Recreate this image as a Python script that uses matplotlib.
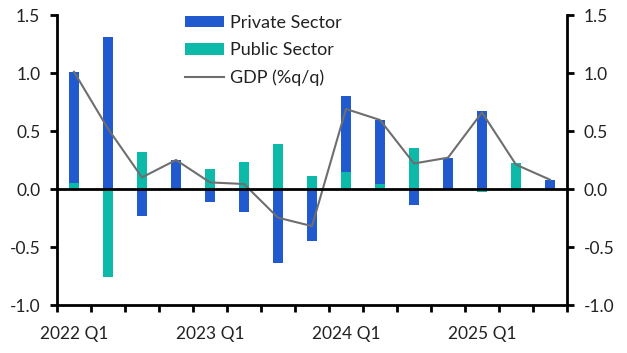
import numpy as np
import matplotlib
matplotlib.use("Agg")
import matplotlib.pyplot as plt
from matplotlib.ticker import FixedLocator

plt.rcParams["font.family"] = ["Lato", "DejaVu Sans"]

# Datos (contribuciones al PIB, pp)
trimestres = ["2022 Q1", "2022 Q2", "2022 Q3", "2022 Q4",
              "2023 Q1", "2023 Q2", "2023 Q3", "2023 Q4",
              "2024 Q1", "2024 Q2", "2024 Q3", "2024 Q4",
              "2025 Q1", "2025 Q2", "2025 Q3"]
privado = [0.96, 1.31, -0.23, 0.25, -0.115, -0.20, -0.635, -0.45,
           0.65, 0.545, -0.135, 0.27, 0.675, 0.0, 0.08]
publico = [0.05, -0.76, 0.32, 0.0, 0.17, 0.235, 0.39, 0.115,
           0.15, 0.046, 0.35, 0.0, -0.023, 0.22, 0.0]
pib = [1.01, 0.52, 0.10, 0.25, 0.057, 0.043, -0.247, -0.32,
       0.69, 0.595, 0.22, 0.27, 0.66, 0.21, 0.08]
etiquetas = ["2022 Q1", "2023 Q1", "2024 Q1", "2025 Q1"]

AZUL = "#215ACE"
TURQ = "#0DBAAA"
GRIS = "#6E6E6E"
TEXTO = "#222222"

x = np.arange(len(trimestres))
privado = np.array(privado)
publico = np.array(publico)
# apilar por signo (como Excel)
base_priv = np.where(np.sign(privado) == np.sign(publico), publico, 0.0)

fig = plt.figure(figsize=(6.27, 3.53), dpi=100)
ax = fig.add_axes([57 / 627, 48 / 353, 510 / 627, 290 / 353])

ax.bar(x, publico, width=0.32, color=TURQ, label="Public Sector", zorder=2)
ax.bar(x, privado, width=0.32, bottom=base_priv, color=AZUL,
       label="Private Sector", zorder=2)
ax.plot(x, pib, color=GRIS, lw=1.5, label="GDP (%q/q)", zorder=3)
ax.axhline(0, color="black", lw=2, zorder=4)

ax.set_xlim(-0.5, len(trimestres) - 0.5)
ax.set_ylim(-1.0, 1.5)
yt = np.arange(-1.0, 1.51, 0.5)
ax.set_yticks(yt)
ax.set_yticklabels([f"{v:.1f}" for v in yt])
ax.tick_params(axis="y", which="both", direction="out", length=5, width=2,
               labelsize=12.5, labelright=True, right=True,
               labelcolor=TEXTO, pad=7)

ax.xaxis.set_major_locator(FixedLocator(np.arange(-0.5, len(trimestres), 1.0)))
ax.xaxis.set_major_formatter(plt.NullFormatter())
ax.xaxis.set_minor_locator(FixedLocator([trimestres.index(e) for e in etiquetas]))
ax.set_xticklabels(etiquetas, minor=True)
ax.tick_params(axis="x", which="major", direction="out", length=5, width=2)
ax.tick_params(axis="x", which="minor", length=0, labelsize=12.5, pad=15,
               labelcolor=TEXTO)

for lado in ["left", "right", "bottom"]:
    ax.spines[lado].set_linewidth(2)
ax.spines["top"].set_visible(False)

h, l = ax.get_legend_handles_labels()
orden = [2, 1, 0]
ley = ax.legend([h[i] for i in orden], [l[i] for i in orden], loc="upper left",
                bbox_to_anchor=(185 / 627, 1 - 15 / 353),
                bbox_transform=fig.transFigure, frameon=False, fontsize=13,
                handlelength=2.15, handleheight=0.62, labelspacing=0.62,
                handletextpad=0.35, borderpad=0, borderaxespad=0)
for t in ley.get_texts():
    t.set_color(TEXTO)

fig.savefig("out.png", dpi=100)
